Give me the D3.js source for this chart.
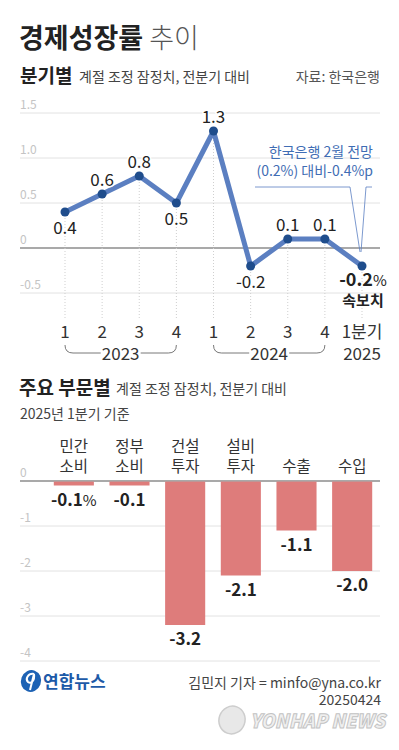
<!DOCTYPE html>
<html>
<head>
<meta charset="utf-8">
<script src="https://cdn.jsdelivr.net/npm/d3@7"></script>
<style>
  body { margin: 0; background: #fff; }
  svg { display: block; font-family: "Noto Sans CJK KR", "Noto Sans", sans-serif; }
</style>
</head>
<body>
<svg id="chart" width="399" height="750"></svg>
<script>
// 분기별 성장률
const quarters = ['1', '2', '3', '4', '1', '2', '3', '4', '1분기'];
const growth = [0.4, 0.6, 0.8, 0.5, 1.3, -0.2, 0.1, 0.1, -0.2];
const labelSide = ['below', 'above', 'above', 'below', 'above', 'below', 'above', 'above', 'below'];
const years = [
  { label: '2023', from: 0, to: 3 },
  { label: '2024', from: 4, to: 7 }
];
const lineTicks = [1.5, 1.0, 0.5, 0, -0.5];
const lineTickLabels = ['1.5', '1.0', '0.5', '0', '-0.5'];

// 주요 부문별
const sectors = ['민간 소비', '정부 소비', '건설 투자', '설비 투자', '수출', '수입'];
const sectorValues = [-0.1, -0.1, -3.2, -2.1, -1.1, -2.0];
const barTicks = [0, -1, -2, -3, -4];

const svg = d3.select('#chart');
const lineColor = '#5b7fc1';
const dotColor = '#1f4d8c';
const barColor = '#de7c7b';

// 제목
const title = svg.append('text').attr('x', 19).attr('y', 48).attr('fill', '#222');
title.append('tspan').text('경제성장률').attr('font-size', 27).attr('font-weight', 700);
title.append('tspan').text(' 추이').attr('font-size', 27).attr('font-weight', 300).attr('fill', '#555');

svg.append('text').attr('x', 20).attr('y', 83).attr('font-size', 19).attr('font-weight', 700)
  .attr('fill', '#222').text('분기별');
svg.append('text').attr('x', 79).attr('y', 82).attr('font-size', 14).attr('fill', '#444')
  .text('계절 조정 잠정치, 전분기 대비');
svg.append('text').attr('x', 380).attr('y', 82).attr('font-size', 14).attr('fill', '#555')
  .attr('text-anchor', 'end').text('자료: 한국은행');

// 선 그래프
const x = d3.scalePoint().domain(d3.range(growth.length)).range([65, 362]);
const y = d3.scaleLinear().domain([-0.5, 1.5]).range([293, 113]);

const grid = svg.append('g');
lineTicks.forEach((t, i) => {
  grid.append('line')
    .attr('x1', 20).attr('x2', 380)
    .attr('y1', y(t)).attr('y2', y(t))
    .attr('stroke', t === 0 ? '#555' : '#e2e2e2')
    .attr('stroke-width', t === 0 ? 1.2 : 1);
  grid.append('text')
    .attr('x', 20).attr('y', y(t) - 4)
    .attr('font-size', 12).attr('fill', '#c4c4c4')
    .text(lineTickLabels[i]);
});

// 점선
svg.append('g').selectAll('line')
  .data(growth)
  .join('line')
  .attr('x1', (d, i) => x(i)).attr('x2', (d, i) => x(i))
  .attr('y1', d => y(d)).attr('y2', 318)
  .attr('stroke', '#cfcfcf')
  .attr('stroke-dasharray', '1,2');

// 주석 지시선
svg.append('path')
  .attr('d', 'M255,187H350L360,252M372,187H366L361,252')
  .attr('fill', 'none')
  .attr('stroke', '#5b7fc1')
  .attr('stroke-width', 0.8);

svg.append('text').attr('x', 373).attr('y', 157).attr('text-anchor', 'end')
  .attr('font-size', 14).attr('fill', '#3f6db4').text('한국은행 2월 전망');
svg.append('text').attr('x', 373).attr('y', 176).attr('text-anchor', 'end')
  .attr('font-size', 14).attr('fill', '#3f6db4').text('(0.2%) 대비-0.4%p');

const line = d3.line().x((d, i) => x(i)).y(d => y(d));
svg.append('path')
  .datum(growth)
  .attr('d', line)
  .attr('fill', 'none')
  .attr('stroke', lineColor)
  .attr('stroke-width', 5)
  .attr('stroke-linejoin', 'round');

svg.append('g').selectAll('circle')
  .data(growth)
  .join('circle')
  .attr('cx', (d, i) => x(i))
  .attr('cy', d => y(d))
  .attr('r', 4.5)
  .attr('fill', dotColor);

// 값 레이블
const last = growth.length - 1;
svg.append('g').selectAll('text')
  .data(growth)
  .join('text')
  .attr('x', (d, i) => x(i) + (i === last ? 1 : 0))
  .attr('y', (d, i) => labelSide[i] === 'above' ? y(d) - 8 : y(d) + (i === last ? 20 : 22))
  .attr('text-anchor', 'middle')
  .attr('font-size', 17)
  .attr('fill', '#222')
  .attr('stroke', '#fff').attr('stroke-width', 3).attr('paint-order', 'stroke')
  .each(function(d, i) {
    const t = d3.select(this);
    if (i === last) {
      t.append('tspan').text(d.toFixed(1)).attr('font-weight', 700).attr('font-size', 18);
      t.append('tspan').text('%').attr('font-size', 15);
    } else {
      t.text(d.toFixed(1));
    }
  });

svg.append('text').attr('x', x(last) + 1).attr('y', 306).attr('text-anchor', 'middle')
  .attr('font-size', 15).attr('font-weight', 700).attr('fill', '#222').text('속보치');

// 분기 축
svg.append('g').selectAll('text')
  .data(quarters)
  .join('text')
  .attr('x', (d, i) => x(i))
  .attr('y', 338)
  .attr('text-anchor', 'middle')
  .attr('font-size', 17)
  .attr('fill', '#333')
  .text(d => d);

const yearG = svg.append('g');
years.forEach(yr => {
  const x0 = x(yr.from), x1 = x(yr.to), mid = (x0 + x1) / 2;
  yearG.append('path')
    .attr('d', `M${x0},345Q${x0},353 ${x0 + 8},353H${mid - 20}M${mid + 20},353H${x1 - 8}Q${x1},353 ${x1},345`)
    .attr('fill', 'none')
    .attr('stroke', '#555')
    .attr('stroke-width', 0.8);
  yearG.append('text')
    .attr('x', mid).attr('y', 360)
    .attr('text-anchor', 'middle')
    .attr('font-size', 17).attr('fill', '#333')
    .text(yr.label);
});
svg.append('text').attr('x', x(last)).attr('y', 360).attr('text-anchor', 'middle')
  .attr('font-size', 17).attr('fill', '#333').text('2025');

// 부문별 막대
svg.append('text').attr('x', 19).attr('y', 395).attr('font-size', 19).attr('font-weight', 700)
  .attr('fill', '#222').text('주요 부문별');
svg.append('text').attr('x', 116).attr('y', 394).attr('font-size', 14).attr('fill', '#444')
  .text('계절 조정 잠정치, 전분기 대비');
svg.append('text').attr('x', 20).attr('y', 419).attr('font-size', 14).attr('fill', '#444')
  .text('2025년 1분기 기준');

const xb = d3.scaleBand().domain(sectors).range([46, 380]).paddingInner(0.28).paddingOuter(0.14);
const yb = d3.scaleLinear().domain([-4, 0]).range([661, 481]);

const bgrid = svg.append('g');
barTicks.forEach(t => {
  bgrid.append('line')
    .attr('x1', 20).attr('x2', 380)
    .attr('y1', yb(t)).attr('y2', yb(t))
    .attr('stroke', t === 0 ? '#555' : '#e2e2e2')
    .attr('stroke-width', t === 0 ? 1.2 : 1);
  bgrid.append('text')
    .attr('x', 20).attr('y', yb(t) - 4)
    .attr('font-size', 12).attr('fill', '#c4c4c4')
    .text(t);
});

svg.append('g').selectAll('rect')
  .data(sectorValues)
  .join('rect')
  .attr('x', (d, i) => xb(sectors[i]))
  .attr('width', xb.bandwidth())
  .attr('y', yb(0) + 0.6)
  .attr('height', d => yb(d) - yb(0) - 0.6)
  .attr('fill', barColor);

// 부문 이름
svg.append('g').selectAll('text')
  .data(sectors)
  .join('text')
  .attr('text-anchor', 'middle')
  .attr('font-size', 15.5)
  .attr('fill', '#333')
  .each(function(d) {
    const parts = d.split(' ');
    const cx = xb(d) + xb.bandwidth() / 2;
    parts.forEach((p, j) => {
      d3.select(this).append('tspan')
        .attr('x', cx)
        .attr('y', 472 - (parts.length - 1 - j) * 20)
        .text(p);
    });
  });

svg.append('g').selectAll('text')
  .data(sectorValues)
  .join('text')
  .attr('x', (d, i) => xb(sectors[i]) + xb.bandwidth() / 2)
  .attr('y', d => yb(d) + 20)
  .attr('text-anchor', 'middle')
  .attr('font-size', 17)
  .attr('font-weight', 700)
  .attr('fill', '#222')
  .each(function(d, i) {
    const t = d3.select(this);
    t.append('tspan').text(d.toFixed(1));
    if (i === 0) t.append('tspan').text('%').attr('font-weight', 400).attr('font-size', 15);
  });

// 하단
const logo = svg.append('g').attr('transform', 'translate(31,681)');
logo.append('ellipse').attr('rx', 10).attr('ry', 11).attr('fill', '#1d62b4')
  .attr('transform', 'rotate(20)');
logo.append('path').attr('d', 'M3,-7C-3,-8 -6,-2 -3,1C0,3 4,0 3,-7L-1,9')
  .attr('fill', 'none').attr('stroke', '#fff').attr('stroke-width', 2);
svg.append('text').attr('x', 43).attr('y', 688).attr('font-size', 17).attr('font-weight', 700)
  .attr('fill', '#1d5aa8').text('연합뉴스');

svg.append('text').attr('x', 381).attr('y', 688).attr('text-anchor', 'end')
  .attr('font-size', 14).attr('fill', '#444').text('김민지 기자 = minfo@yna.co.kr');
svg.append('text').attr('x', 381).attr('y', 705).attr('text-anchor', 'end')
  .attr('font-size', 14).attr('fill', '#444').text('20250424');

const wm = svg.append('g').attr('opacity', 0.9);
wm.append('ellipse').attr('cx', 232).attr('cy', 720).attr('rx', 13).attr('ry', 14)
  .attr('fill', '#e6e6e6').attr('stroke', '#c8c8c8').attr('stroke-width', 1.5)
  .attr('transform', 'rotate(20,232,720)');
wm.append('text').attr('x', 250).attr('y', 728).attr('font-size', 19).attr('font-weight', 900)
  .attr('font-style', 'italic').attr('fill', '#eee').attr('stroke', '#bdbdbd').attr('stroke-width', 1)
  .attr('textLength', 135).attr('lengthAdjust', 'spacingAndGlyphs')
  .text('YONHAP NEWS');
</script>
</body>
</html>
